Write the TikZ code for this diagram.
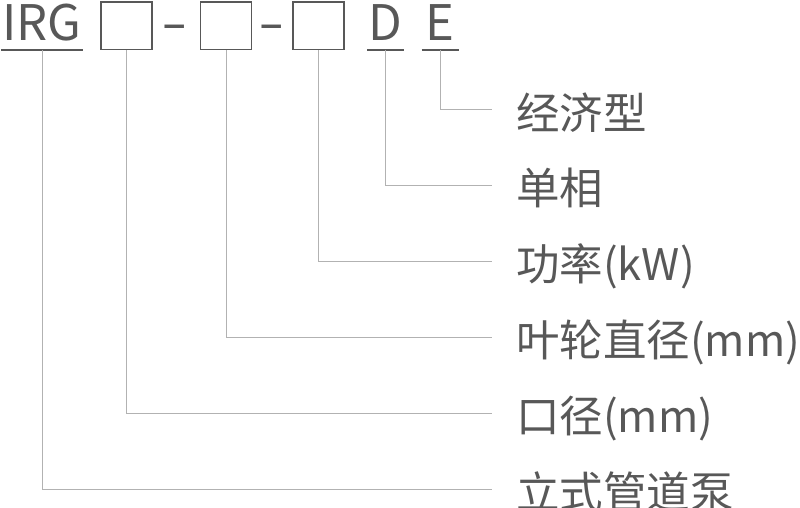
\documentclass[tikz,border=0pt]{standalone}
\usepackage{fontspec}
\setmainfont{Noto Sans CJK SC}
\usetikzlibrary{positioning}

\definecolor{textgray}{HTML}{585858}
\definecolor{linegray}{HTML}{B2B2B2}

\begin{document}
\begin{tikzpicture}[x=1pt, y=-1pt,
  code/.style={text=textgray, font=\fontsize{49}{52}\selectfont, inner sep=0pt,
    text height=29.4pt, text depth=0pt, minimum height=48pt},
  codebox/.style={draw=textgray, line width=1.5pt, minimum width=51pt,
    minimum height=47.5pt, inner sep=0pt},
  uline/.style={draw=textgray, line width=1.5pt},
  lbl/.style={text=textgray, font=\fontsize{43.5}{48}\selectfont, inner sep=0pt,
    text height=38pt, text depth=0pt},
  conn/.style={draw=linegray, line width=1pt}]

  \useasboundingbox (0,0) rectangle (800,508);

  % Define the gap between the labels
  \def\gap{37.4pt}

  % Draw the model code
  \node[code, minimum width=81.7pt, anchor=south west] (irg) at (1,50) {IRG};
  \node[codebox, right=17.3pt of irg] (bore) {};
  \node[codebox, right=47pt of bore] (wheel) {};
  \node[codebox, right=39.7pt of wheel] (kw) {};
  \node[code, minimum width=36.6pt, right=22.5pt of kw] (d) {D};
  \node[code, minimum width=36.6pt, right=17.4pt of d] (e) {E};

  % Draw the dashes
  \node[code, minimum height=0pt, anchor=base] (dashA) at (175,40.7) {\scalebox{1.55}[1]{-}};
  \node[code, minimum height=0pt, anchor=base] (dashB) at (271.5,40.7) {\scalebox{1.55}[1]{-}};

  % Draw the underlines
  \draw[uline] (irg.south west) -- (irg.south east);
  \draw[uline] (d.south west) -- (d.south east);
  \draw[uline] (e.south west) -- (e.south east);

  % Draw the labels
  \node[lbl, anchor=west] (econ) at (516,110) {经济型};
  \node[lbl, below=\gap of econ.south west, anchor=north west] (phase) {单相};
  \node[lbl, below=\gap of phase.south west, anchor=north west] (power) {功率(kW)};
  \node[lbl, below=\gap of power.south west, anchor=north west] (impeller) {叶轮直径(mm)};
  \node[lbl, below=\gap of impeller.south west, anchor=north west] (caliber) {口径(mm)};
  \node[lbl, below=\gap of caliber.south west, anchor=north west] (pump) {立式管道泵};

  % Connect the code to the labels
  \draw[conn] (e.south) |- ([xshift=-24pt]econ.west);
  \draw[conn] (d.south) |- ([xshift=-24pt]phase.west);
  \draw[conn] (kw.south) |- ([xshift=-24pt]power.west);
  \draw[conn] (wheel.south) |- ([xshift=-24pt]impeller.west);
  \draw[conn] (bore.south) |- ([xshift=-24pt]caliber.west);
  \draw[conn] (irg.south) |- ([xshift=-24pt]pump.west);

\end{tikzpicture}
\end{document}
